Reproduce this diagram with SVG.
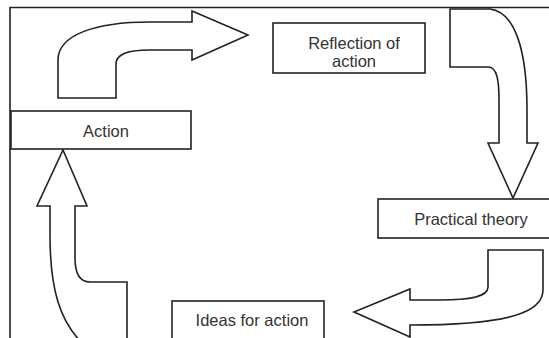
<svg xmlns="http://www.w3.org/2000/svg" width="549" height="338" viewBox="0 0 549 338">
<style>
.box{fill:#fff;stroke:#222;stroke-width:1.6}
.arr{fill:#fff;stroke:#222;stroke-width:1.6;stroke-linejoin:miter}
.lbl{font-family:"Liberation Sans",Arial,sans-serif;font-size:16.5px;fill:#333;text-anchor:middle}
.frame{fill:none;stroke:#222;stroke-width:1.6}
</style>
<rect width="549" height="338" fill="#fff"/>
<path class="frame" d="M10,345 L10,7.5 L555,7.5"/>
<g id="connectors">
<path id="arrow-action-reflection" class="arr" d="M58,98 L58,60 C58,35 95,22 150,22 L192,22 L192,11 L248,35 L192,60 L192,50 L150,50 C125,50 116,55 116,64 L116,98 Z"/>
<path id="arrow-reflection-practical" class="arr" d="M450,9 L490,9 C515,12 527,50 527,110 L527,143 L538,143 L513,198 L488,143 L499,143 L499,100 C499,80 497,67 488,67 L450,67 Z"/>
<path id="arrow-practical-ideas" class="arr" d="M488,250 L543,250 L543,290 C543,312 510,325 410,325 L410,337 L354,312 L410,289 L410,300 L440,300 C470,300 488,297 488,287 Z"/>
<path id="arrow-ideas-action" class="arr" d="M63,150 L87,206 L75,206 L75,258 C75,275 80,282 90,282 L127,282 L127,345 L84,345 C60,322 50,290 50,235 L50,206 L37,206 Z"/>
</g>
<g id="node-action">
<rect class="box" x="11" y="111" width="180" height="38"/>
<text class="lbl" x="106" y="137">Action</text>
</g>
<g id="node-reflection">
<rect class="box" x="273" y="23" width="152" height="50"/>
<text class="lbl" x="354" y="49">Reflection of</text>
<text class="lbl" x="354" y="67">action</text>
</g>
<g id="node-practical">
<rect class="box" x="378" y="199" width="186" height="39"/>
<text class="lbl" x="471" y="225">Practical theory</text>
</g>
<g id="node-ideas">
<rect class="box" x="172" y="301" width="152" height="45"/>
<text class="lbl" x="252" y="326">Ideas for action</text>
</g>
</svg>
